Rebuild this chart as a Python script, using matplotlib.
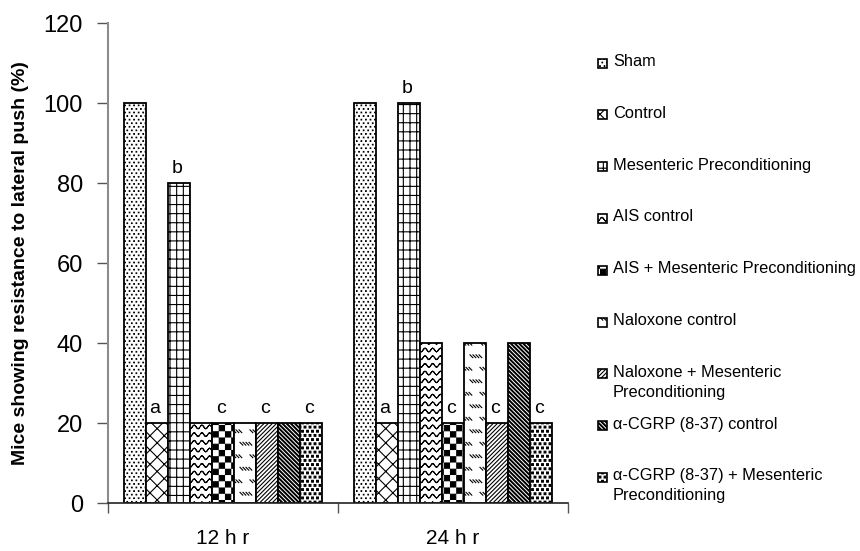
import warnings
import numpy as np
import matplotlib
matplotlib.use('Agg')
import matplotlib.pyplot as plt
from matplotlib import hatch as mhatch
from matplotlib.path import Path
from matplotlib.patches import Rectangle

warnings.filterwarnings('ignore')  # custom hatch letters trigger a deprecation warning

groups = ['12 h r', '24 h r']
series = ['Sham', 'Control', 'Mesenteric Preconditioning', 'AIS control',
          'AIS + Mesenteric Preconditioning', 'Naloxone control',
          'Naloxone + Mesenteric\nPreconditioning', 'α-CGRP (8-37) control',
          'α-CGRP (8-37) + Mesenteric\nPreconditioning']
values_12hr = [100, 20, 80, 20, 20, 20, 20, 20, 20]
values_24hr = [100, 20, 100, 40, 20, 40, 20, 40, 20]
letters_12hr = ['', 'a', 'b', '', 'c', '', 'c', '', 'c']
letters_24hr = ['', 'a', 'b', '', 'c', '', 'c', '', 'c']
yticks = [0, 20, 40, 60, 80, 100, 120]

# fill patterns, one per series (custom hatch letters defined below)
hatches = ['q', 'c', 'g', 'w', 'k', 'd', 'f', 'b', 'p']


# ---- custom hatch patterns (unit tile, y up) ----
MOVE, LINE, CLOSE = Path.MOVETO, Path.LINETO, Path.CLOSEPOLY


def seg_path(segs):
    segs = np.asarray(segs, float)
    return segs.reshape(-1, 2), np.tile([MOVE, LINE], len(segs))


def square_path(centers, half):
    verts = []
    for cx, cy in centers:
        verts += [(cx - half, cy - half), (cx + half, cy - half),
                  (cx + half, cy + half), (cx - half, cy + half),
                  (cx - half, cy - half)]
    return np.array(verts), np.tile([MOVE, LINE, LINE, LINE, CLOSE], len(centers))


def diag(n, sign, shift=0.0):
    segs = []
    for k in range(-n, 2 * n + 1):
        c = k / n + shift
        segs.append([(0, c), (1, c + sign)])
    return segs


def stagger(nx, ny):
    pts = []
    for j in range(-1, ny + 1):
        off = 0.5 / nx if j % 2 else 0.0
        for i in range(-1, nx + 1):
            pts.append(((i + 0.5) / nx + off, (j + 0.5) / ny))
    return pts


def pat_stipple():
    return square_path(stagger(22, 28), 0.003)


def pat_cross():
    return seg_path(diag(7, 1) + diag(7, -1))


def pat_grid():
    segs = [[(0, (j + 0.5) / 11), (1, (j + 0.5) / 11)] for j in range(11)]
    segs += [[((i + 0.5) / 15, 0), ((i + 0.5) / 15, 1)] for i in range(15)]
    return seg_path(segs)


def pat_wave():
    n, m = 13, 8
    xs = np.linspace(0, 1, n * m + 1)
    segs = []
    for j in range(n):
        ys = (j + 0.5) / n + 0.018 * np.sin(2 * np.pi * n * xs)
        pts = np.column_stack([xs, ys])
        segs += [[pts[i], pts[i + 1]] for i in range(len(pts) - 1)]
    return seg_path(segs)


def pat_checker():
    n = 16
    cells = [((i + 0.5) / n, (j + 0.5) / n)
             for i in range(n) for j in range(n) if (i + j) % 2 == 0]
    return square_path(cells, 0.5 / n - 0.005)


def pat_dashes():
    segs = []
    for j in range(8):
        y = (j + 0.5) / 8
        off = 0.1 if j % 2 else 0.0
        for g in range(-1, 6):
            for d in range(4):
                x0 = g / 5 + off + d * 0.03
                segs.append([(x0, y + 0.014), (x0 + 0.028, y - 0.014)])
    return seg_path(segs)


def pat_forward():
    return seg_path(diag(24, 1))


def pat_back():
    return seg_path(diag(24, -1) + diag(24, -1, 0.012))


def pat_dots():
    return square_path(stagger(20, 24), 0.009)


def make_hatch(char, builder):
    class Custom(mhatch.HatchPatternBase):
        def __init__(self, hatch, density):
            self.num_vertices = 0
            if hatch and char in hatch:
                self.verts, self.codes = builder()
                self.num_vertices = len(self.verts)

        def set_vertices_and_codes(self, vertices, codes):
            vertices[:] = self.verts
            codes[:] = self.codes
    mhatch._hatch_types.append(Custom)


for ch, fn in zip(hatches, [pat_stipple, pat_cross, pat_grid, pat_wave, pat_checker,
                            pat_dashes, pat_forward, pat_back, pat_dots]):
    make_hatch(ch, fn)

plt.rcParams['font.family'] = ['Liberation Sans', 'DejaVu Sans']
plt.rcParams['hatch.linewidth'] = 0.8

W, H = 860, 551
fig = plt.figure(figsize=(W / 100, H / 100), dpi=100)
ax = fig.add_axes([108 / W, 1 - 503 / H, 460 / W, 480 / H])

x = np.arange(len(groups))
width = 0.096
for i, name in enumerate(series):
    vals = [values_12hr[i], values_24hr[i]]
    bars = ax.bar(x + (i - 4) * width, vals, width, color='white',
                  edgecolor='black', linewidth=1.3, hatch=hatches[i])
    for b, letter in zip(bars, [letters_12hr[i], letters_24hr[i]]):
        if letter:
            ax.text(b.get_x() + b.get_width() / 2 - 0.008, b.get_height() + 2.5, letter,
                    ha='center', va='baseline', fontsize=14)

ax.set_xlim(-0.5, 1.5)
ax.set_ylim(0, 120)
ax.set_yticks(yticks)
ax.set_xticks(x, groups)
ax.set_xticks([-0.5, 0.5, 1.5], minor=True)
ax.tick_params(axis='y', direction='out', length=8, width=1, color='#555555',
               labelsize=17, pad=10)
ax.tick_params(axis='x', which='major', length=0, labelsize=15, pad=19)
ax.tick_params(axis='x', which='minor', direction='out', length=7, width=1,
               color='#555555')
for s in ['top', 'right']:
    ax.spines[s].set_visible(False)
ax.spines['left'].set_color('#8c8c8c')
ax.spines['left'].set_linewidth(1.5)
ax.spines['bottom'].set_color('#222222')
ax.spines['bottom'].set_linewidth(1.2)

ax.set_ylabel('Mice showing resistance to lateral push (%)', fontsize=14,
              fontweight='bold')
ax.yaxis.set_label_coords(-0.172, 0.5)

# legend drawn by hand so entries keep an even spacing
for i, (name, h) in enumerate(zip(series, hatches)):
    yc = 63 + 51.8 * i
    fig.add_artist(Rectangle((598 / W, 1 - (yc + 4.5) / H), 9 / W, 9 / H,
                             transform=fig.transFigure, facecolor='white',
                             edgecolor='black', lw=1.2, hatch=h))
    fig.text(613 / W, 1 - (yc - 9) / H, name, ha='left', va='top',
             fontsize=11.8, linespacing=1.4)

fig.savefig('out.png', dpi=100)
